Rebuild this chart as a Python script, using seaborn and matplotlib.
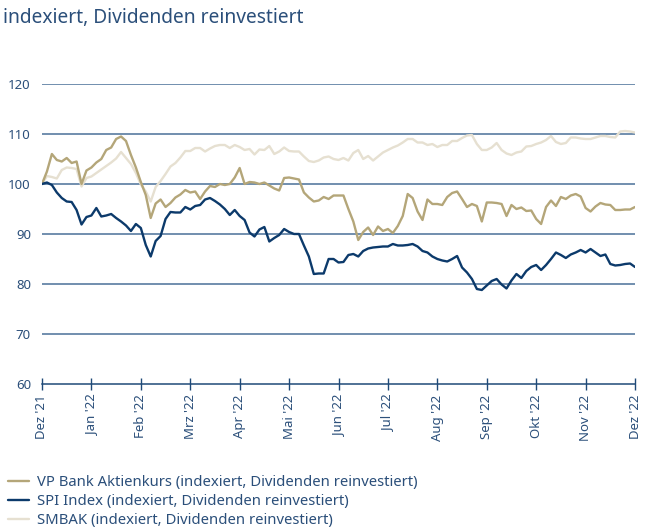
import numpy as np
import pandas as pd
import matplotlib
matplotlib.use("Agg")
import matplotlib.pyplot as plt
import seaborn as sns

# month labels on the x axis (equally spaced)
months = ["Dez '21", "Jan '22", "Feb '22", "Mrz '22", "Apr '22", "Mai '22", "Jun '22",
          "Jul '22", "Aug '22", "Sep '22", "Okt '22", "Nov '22", "Dez '22"]

# index values (10 samples per month)
vp_bank = [100, 102.5, 106, 104.8, 104.5, 105.2, 104.2, 104.5, 100, 102.7,
           103.3, 104.3, 105, 106.8, 107.3, 109, 109.5, 108.6, 105.8, 103.3,
           100.4, 97.8, 93.2, 96.1, 96.9, 95.4, 96.2, 97.3, 97.9, 98.8,
           98.3, 98.5, 97, 98.5, 99.6, 99.4, 100, 99.8, 100, 101.3,
           103.2, 100, 100.4, 100.3, 100, 100.3, 99.7, 99.1, 98.7, 101.2,
           101.3, 101.1, 100.9, 98.3, 97.3, 96.5, 96.7, 97.4, 97, 97.7,
           97.7, 97.7, 95, 92.5, 88.8, 90.4, 91.3, 89.8, 91.5, 90.6,
           91, 90.2, 91.6, 93.6, 98, 97.2, 94.5, 92.8, 96.9, 96,
           96, 95.8, 97.4, 98.2, 98.5, 97, 95.4, 96, 95.6, 92.5,
           96.3, 96.3, 96.2, 96, 93.6, 95.8, 95, 95.3, 94.6, 94.7,
           93, 92, 95.4, 96.7, 95.6, 97.4, 97, 97.7, 98, 97.5,
           95.2, 94.5, 95.5, 96.2, 95.9, 95.8, 94.8, 94.8, 94.9, 94.9, 95.4]

spi = [100, 100.3, 99.8, 98.3, 97.2, 96.5, 96.4, 94.8, 91.9, 93.4,
       93.7, 95.2, 93.5, 93.7, 94, 93.2, 92.5, 91.7, 90.6, 92,
       91.2, 87.8, 85.5, 88.6, 89.6, 93, 94.4, 94.3, 94.3, 95.4,
       94.9, 95.6, 95.8, 96.9, 97.2, 96.6, 95.9, 95, 93.8, 94.8,
       93.6, 92.8, 90.3, 89.5, 90.9, 91.4, 88.5, 89.2, 89.8, 91,
       90.4, 90, 90, 87.7, 85.5, 82, 82.1, 82.1, 85, 85,
       84.3, 84.4, 85.8, 86, 85.5, 86.6, 87.1, 87.3, 87.4, 87.5,
       87.5, 88, 87.7, 87.7, 87.8, 88, 87.5, 86.6, 86.3, 85.5,
       85, 84.7, 84.5, 85, 85.6, 83.3, 82.3, 81, 79, 78.8,
       79.7, 80.6, 81, 79.9, 79.1, 80.7, 82, 81.2, 82.6, 83.4,
       83.8, 82.8, 83.8, 85, 86.3, 85.8, 85.2, 85.9, 86.3, 86.8,
       86.3, 87, 86.3, 85.6, 85.9, 84, 83.7, 83.8, 84, 84.1, 83.4]

smbak = [100, 101.6, 101.4, 101.1, 102.8, 103.3, 103.2, 103, 99.5, 101.2,
         101.5, 102.2, 102.9, 103.6, 104.3, 105.1, 106.4, 105.2, 104, 102.2,
         99.9, 98.5, 96.5, 99.4, 100.6, 102, 103.5, 104.2, 105.3, 106.6,
         106.6, 107.2, 107.2, 106.5, 107.1, 107.6, 107.8, 107.8, 107.2, 107.8,
         107.4, 106.8, 107, 105.9, 106.9, 106.8, 107.6, 106, 106.5, 107.3,
         106.6, 106.5, 106.5, 105.5, 104.6, 104.4, 104.7, 105.3, 105.5, 105,
         104.8, 105.2, 104.7, 106.2, 106.8, 105, 105.6, 104.7, 105.5, 106.3,
         106.8, 107.3, 107.7, 108.3, 109, 109, 108.3, 108.3, 107.8, 108,
         107.4, 107.8, 107.8, 108.6, 108.6, 109.2, 109.7, 109.8, 108, 106.8,
         106.8, 107.3, 108.2, 106.8, 106.1, 105.8, 106.3, 106.5, 107.5, 107.6,
         108, 108.3, 108.8, 109.6, 108.4, 108, 108.2, 109.3, 109.3, 109.1,
         109, 109, 109.3, 109.6, 109.6, 109.4, 109.3, 110.5, 110.6, 110.5, 110.3]

labels = ["VP Bank Aktienkurs (indexiert, Dividenden reinvestiert)",
          "SPI Index (indexiert, Dividenden reinvestiert)",
          "SMBAK (indexiert, Dividenden reinvestiert)"]

text_col = "#2b4f7a"
colors = {"vp": "#b4a679", "spi": "#0c3a6b", "smbak": "#e6e0d1"}

sns.set_theme(style="white")
plt.rcParams["font.family"] = ["Noto Sans", "DejaVu Sans"]

x = np.linspace(0, len(months) - 1, len(vp_bank))
df = pd.DataFrame({"t": x, "vp": vp_bank, "spi": spi, "smbak": smbak})

fig = plt.figure(figsize=(6.46, 5.30), dpi=100)
ax = fig.add_axes([0.065, 0.2755, 0.918, 0.566])

# light line first so the others sit on top
sns.lineplot(data=df, x="t", y="smbak", color=colors["smbak"], lw=1.7, ax=ax, label=labels[2])
sns.lineplot(data=df, x="t", y="vp", color=colors["vp"], lw=1.7, ax=ax, label=labels[0])
sns.lineplot(data=df, x="t", y="spi", color=colors["spi"], lw=1.7, ax=ax, label=labels[1])

ax.set_xlim(0, len(months) - 1)
ax.set_ylim(60, 120)
ax.set_yticks(range(60, 121, 10))
for v in range(70, 121, 10):
    ax.axhline(v, color="#4a7099", lw=1.1, zorder=0)

ax.set_xticks(range(len(months)))
ax.set_xticklabels(months, rotation=90)
ax.set_xlabel("")
ax.set_ylabel("")

for s in ["top", "right", "left"]:
    ax.spines[s].set_visible(False)
ax.spines["bottom"].set_color("#1f4a78")
ax.spines["bottom"].set_linewidth(1.1)

ax.tick_params(axis="x", direction="inout", length=9, width=1, color="#1f4a78",
               labelsize=9.5, labelcolor=text_col, pad=3, bottom=True)
ax.tick_params(axis="y", length=0, labelsize=9.5, labelcolor=text_col, pad=8)

fig.text(0.005, 1 - 18 / 530, "indexiert, Dividenden reinvestiert",
         fontsize=13.8, color=text_col, va="center", ha="left")

handles, lbls = ax.get_legend_handles_labels()
order = [lbls.index(l) for l in labels]
ax.get_legend().remove()
fig.legend([handles[i] for i in order], [lbls[i] for i in order],
           loc="upper left", bbox_to_anchor=(0.012, 1 - 475 / 530), frameon=False,
           fontsize=10.7, labelcolor=text_col, handlelength=1.45, handletextpad=0.55,
           labelspacing=0.28, borderpad=0, borderaxespad=0)

fig.savefig("out.png", dpi=100)
